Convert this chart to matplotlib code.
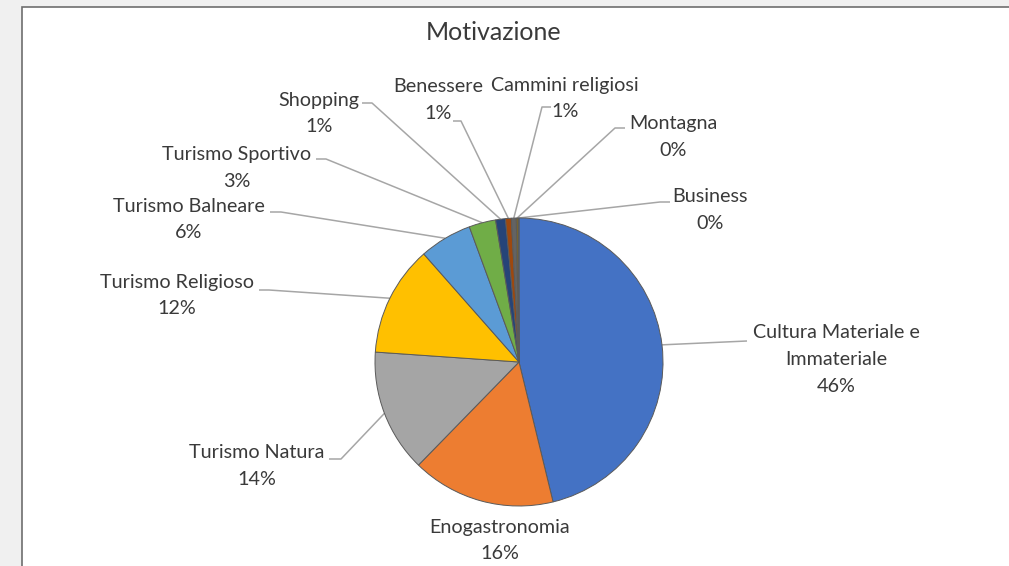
import numpy as np
import matplotlib
matplotlib.use("Agg")
import matplotlib.pyplot as plt
from matplotlib.patches import Rectangle

# Dati (percentuali stimate)
categorie = ["Cultura Materiale e\nImmateriale", "Enogastronomia", "Turismo Natura",
             "Turismo Religioso", "Turismo Balneare", "Turismo Sportivo", "Shopping",
             "Benessere", "Cammini religiosi", "Montagna", "Business"]
valori = [46.2, 16.1, 13.8, 12.4, 5.9, 3.0, 1.1, 0.65, 0.55, 0.2, 0.1]
colori = ["#4472C4", "#ED7D31", "#A5A5A5", "#FFC000", "#5B9BD5", "#70AD47",
          "#264478", "#9E480E", "#636363", "#997300", "#255E91"]

# Posizioni delle etichette (pixel dell'immagine, origine in alto a sinistra)
pos_etichette = [(836, 359.5), (500, 540.5), (257, 466), (177, 295.5), (189, 219.5),
                 (237, 168), (319, 113.5), (438, 100), (565, 98.5), (673, 137), (710, 210)]
# Linee guida: punti vicino all'etichetta, poi verso il bordo della fetta
guide = [[(747, 341)], None, [(329, 459), (341, 459)], [(259, 290), (269, 290)],
         [(270, 212), (281, 212)], [(316, 159), (326, 159)], [(362, 103), (372, 103)],
         [(453, 121), (461, 121)], [(551, 107), (542, 107)], [(625, 128), (615, 128)],
         [(670, 202), (660, 202)]]

W, H = 1009, 566
CX, CY, R = 519, 362, 144  # centro e raggio della torta in pixel

plt.rcParams['font.family'] = ['Lato', 'DejaVu Sans']

fig = plt.figure(figsize=(W / 100, H / 100), dpi=100, facecolor="#F0F0F0")

# Asse di sfondo in coordinate pixel
bg = fig.add_axes([0, 0, 1, 1])
bg.set_xlim(0, W)
bg.set_ylim(H, 0)
bg.axis("off")
bg.add_patch(Rectangle((22, 7), W, H, facecolor="white", edgecolor="#6E6E6E", lw=1.2))

# Asse della torta
ax = fig.add_axes([(CX - R) / W, (H - CY - R) / H, 2 * R / W, 2 * R / H])
wedges, _ = ax.pie(valori, colors=colori, startangle=90, counterclock=False, radius=1,
                   wedgeprops=dict(edgecolor="#5A5A5A", linewidth=0.7))
ax.set_xlim(-1, 1)
ax.set_ylim(-1, 1)

totale = sum(valori)
inv = bg.transData.inverted()
for w, nome, v, (tx, ty), g in zip(wedges, categorie, valori, pos_etichette, guide):
    testo = f"{nome}\n{round(v / totale * 100):.0f}%"
    bg.text(tx, ty, testo, ha="center", va="center", multialignment="center",
            fontsize=14.2, color="#3A3A3A", linespacing=1.68)
    if g is None:
        continue
    ang = np.deg2rad((w.theta1 + w.theta2) / 2)
    bordo = ax.transData.transform((np.cos(ang), np.sin(ang)))
    bx, by = inv.transform(bordo)
    xs = [p[0] for p in g] + [bx]
    ys = [p[1] for p in g] + [by]
    bg.plot(xs, ys, color="#A6A6A6", lw=1.1, solid_capstyle="butt")

bg.text(494, 33, "Motivazione", ha="center", va="center", fontsize=18, color="#3A3A3A")

fig.savefig("out.png", dpi=100, facecolor=fig.get_facecolor())
